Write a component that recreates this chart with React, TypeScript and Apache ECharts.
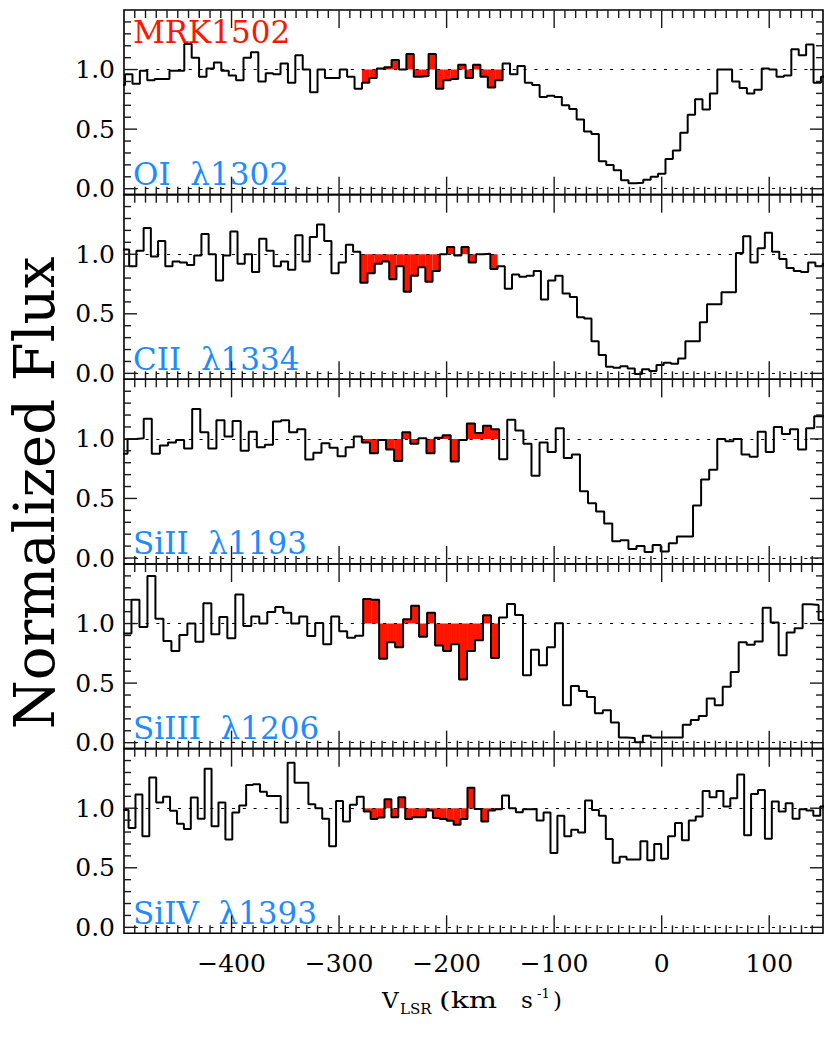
import React, { useEffect, useRef } from 'react';
import * as echarts from 'echarts';

// ---------- data ----------
const X_MIN = -500;
const X_MAX = 150;
const X_INTERVAL = 100;
const X_MAJOR_TICKS = [-400, -300, -200, -100, 0, 100];
const X_MINOR_STEP = 10;
const Y_MIN = -0.05;
const Y_MAX = 1.5;
const Y_MAJOR = [0, 0.5, 1.0];
const Y_MINOR = [0.1, 0.2, 0.3, 0.4, 0.6, 0.7, 0.8, 0.9, 1.1, 1.2, 1.3, 1.4];
const TARGET = 'MRK1502';
const LINE_LABELS = ['OI  λ1302', 'CII  λ1334', 'SiII  λ1193', 'SiIII  λ1206', 'SiIV  λ1393'];
// left edge of the first velocity bin (km/s) and bin width (km/s) for each line
const BIN_START = [-505.9, -501.9, -504.2, -500.5, -502.2];
const BIN_WIDTH = [6.884, 6.717, 7.512, 7.43, 6.432];
// velocity window highlighted in red
const RED_RANGE = [-280, -150];

const FLUX_OI = [
  0.87, 0.96, 0.88, 0.99, 0.91, 0.92, 0.92, 0.99, 0.99, 1.215, 1.1, 0.94, 1.01, 1.06, 0.99, 0.95, 0.91,
  1.1, 1.145, 0.9, 0.97, 0.96, 1.05, 0.89, 1.12, 1.0, 0.81, 1.0, 0.93, 0.93, 1.0, 0.94, 0.84,
  0.89, 0.93, 1.01, 1.02, 1.08, 1.0, 1.13, 0.94, 0.945, 1.13, 0.84, 0.91, 0.92, 1.04, 0.93, 1.04, 0.94, 0.85, 0.91,
  1.05, 0.96, 1.03, 0.89, 0.87, 0.77, 0.78, 0.77, 0.7, 0.67, 0.58, 0.48, 0.46, 0.23, 0.2, 0.155, 0.07, 0.045,
  0.05, 0.075, 0.1, 0.125, 0.25, 0.32, 0.47, 0.62, 0.75, 0.665, 0.8, 1.0, 1.0, 0.9, 0.845, 0.8, 0.83, 1.01,
  1.0, 0.94, 0.95, 1.17, 1.12, 1.21, 0.89, 0.94,
];
const FLUX_CII = [
  1.04, 0.9, 1.03, 1.22, 0.98, 1.11, 0.9, 0.94, 0.93, 0.91, 0.99, 1.17, 1.0, 0.78, 0.99, 1.19, 0.92, 1.0,
  0.85, 1.13, 1.03, 0.9, 0.94, 0.87, 1.16, 0.94, 1.145, 1.25, 1.11, 0.84, 0.93, 1.08, 1.02,
  0.76, 0.84, 0.92, 0.94, 0.79, 0.9, 0.685, 0.82, 0.89, 0.77, 0.86, 1.0, 1.06, 0.99, 1.06, 0.93, 1.0, 1.005, 0.875,
  0.9, 0.71, 0.83, 0.81, 0.82, 0.86, 0.62, 0.78, 0.82, 0.67, 0.64, 0.47, 0.46, 0.27, 0.155, 0.055, 0.047, 0.06,
  0.04, -0.005, 0.035, 0.02, 0.07, 0.09, 0.08, 0.125, 0.27, 0.27, 0.43, 0.58, 0.58, 0.68, 0.68, 1.01, 1.15,
  0.93, 1.05, 1.18, 1.02, 0.96, 0.885, 0.86, 0.85, 0.93, 0.9, 0.92,
];
const FLUX_SIII = [
  0.876, 1.0, 1.005, 1.17, 0.876, 0.945, 0.97, 0.99, 0.92, 1.25, 1.055, 0.92, 1.157, 1.02, 1.15, 0.9, 1.06,
  0.93, 0.95, 1.146, 1.157, 1.055, 1.08, 0.826, 0.884, 0.964, 0.925, 0.854, 0.93, 1.02,
  0.97, 0.88, 0.99, 0.91, 0.815, 1.055, 0.96, 1.005, 0.88, 1.01, 1.03, 0.81, 0.99, 1.13, 1.05, 1.11, 1.08,
  0.83, 1.16, 1.07, 0.96, 0.69, 0.97, 0.89, 1.09, 0.84, 0.87, 0.56, 0.46, 0.39, 0.29, 0.14, 0.15, 0.075, 0.1,
  0.05, 0.11, 0.055, 0.125, 0.18, 0.18, 0.44, 0.66, 0.74, 1.0, 0.98, 1.0, 0.87, 0.85, 1.06, 0.89, 1.1, 1.04,
  1.08, 0.91, 1.09, 1.19, 1.19,
];
const FLUX_SIIII = [
  0.917, 1.2, 0.97, 1.4, 1.04, 0.854, 0.77, 0.903, 1.0, 0.848, 1.17, 0.91, 1.055, 0.876, 1.243, 0.98, 1.06,
  1.0, 1.097, 1.138, 1.09, 1.0, 1.06, 0.895, 1.005, 0.826, 1.06, 0.936, 0.88, 0.898,
  1.207, 1.2, 0.704, 0.843, 0.8, 1.036, 1.15, 0.89, 1.09, 0.815, 0.77, 0.826, 0.53, 0.77, 0.86, 1.07, 0.71,
  1.05, 1.164, 1.072, 0.567, 0.78, 0.65, 0.8, 1.003, 0.314, 0.475, 0.433, 0.383, 0.247, 0.272, 0.17, 0.044,
  0.039, 0.003, 0.058, 0.044, 0.044, 0.044, 0.044, 0.15, 0.19, 0.225, 0.37, 0.314, 0.47, 0.594, 0.844, 0.822,
  0.85, 1.133, 1.008, 0.733, 0.925, 0.961, 1.161, 1.156, 1.03,
];
const FLUX_SIIV = [
  0.986, 0.834, 1.116, 0.765, 1.258, 1.047, 1.097, 0.978, 0.87, 0.825, 1.089, 0.911, 1.332, 0.848, 1.047,
  0.737, 0.964, 1.022, 1.194, 1.202, 1.139, 1.102, 1.102, 0.881, 1.382, 1.213, 1.213, 1.033, 1.0, 0.911,
  0.681, 1.061, 0.889, 1.028, 1.097,
  0.972, 0.909, 0.922, 1.075, 0.925, 1.091, 0.909, 0.925, 0.925, 0.98, 0.917, 0.909, 0.895, 0.861, 0.909,
  1.172, 0.994, 0.889, 0.98, 0.992,
  1.106, 1.0, 0.967, 0.992, 0.994, 0.897, 0.964, 0.625, 0.936, 0.764, 0.819, 0.797, 1.064, 0.986, 0.936,
  0.742, 0.542, 0.592, 0.569, 0.569, 0.722, 0.564, 0.7, 0.575, 0.764, 0.875, 0.731, 0.897, 0.931, 1.144,
  1.092, 1.144, 1.014, 1.083, 1.283, 0.772, 1.119, 1.153, 0.744, 1.056, 0.972, 1.042, 0.911, 0.992, 0.981,
  0.936, 1.014,
];
const FLUXES = [FLUX_OI, FLUX_CII, FLUX_SIII, FLUX_SIIII, FLUX_SIIV];

// ---------- style / layout ----------
const FONT = "'DejaVu Serif', serif";
const RED = '#ff1400';
const BLUE = '#1e8cff';
const GRID_LEFT = 124;
const GRID_WIDTH = 699;
const GRID_TOP = 10;
const PANEL_H = 184.66;
const TICK_COLOR = '#1a1a1a';
const TICK_W = 1.4;
const X_TICK_LEN = [18, 8];
const Y_TICK_LEN = [13, 7];
// interior reference values used to place ticks through the scales
const Y_REF = 0.5;
const X_REF = -200;

function xMinorTicks(): number[] {
  const out: number[] = [];
  for (let v = X_MIN + X_MINOR_STEP; v < X_MAX; v += X_MINOR_STEP) {
    if (v % X_INTERVAL !== 0) out.push(v);
  }
  return out;
}

// tick marks placed through the chart's own scales (convertToPixel)
function buildTickGraphics(chart: any): any[] {
  const out: any[] = [];
  const xMinor = xMinorTicks();
  for (let i = 0; i < FLUXES.length; i++) {
    const finder = { xAxisIndex: i, yAxisIndex: i };
    const tl = chart.convertToPixel(finder, [X_MIN, Y_MAX]);
    const br = chart.convertToPixel(finder, [X_MAX, Y_MIN]);
    if (!tl || !br) continue;
    const left = tl[0];
    const top = tl[1];
    const right = br[0];
    const bottom = br[1];
    const addX = (v: number, len: number) => {
      const p = chart.convertToPixel(finder, [v, Y_REF]);
      out.push({ type: 'rect', z: 100, silent: true, shape: { x: p[0] - TICK_W / 2, y: bottom - len, width: TICK_W, height: len }, style: { fill: TICK_COLOR } });
      out.push({ type: 'rect', z: 100, silent: true, shape: { x: p[0] - TICK_W / 2, y: top, width: TICK_W, height: len }, style: { fill: TICK_COLOR } });
    };
    const addY = (v: number, len: number) => {
      const p = chart.convertToPixel(finder, [X_REF, v]);
      out.push({ type: 'rect', z: 100, silent: true, shape: { x: left, y: p[1] - TICK_W / 2, width: len, height: TICK_W }, style: { fill: TICK_COLOR } });
      out.push({ type: 'rect', z: 100, silent: true, shape: { x: right - len, y: p[1] - TICK_W / 2, width: len, height: TICK_W }, style: { fill: TICK_COLOR } });
    };
    X_MAJOR_TICKS.forEach((v) => addX(v, X_TICK_LEN[0]));
    xMinor.forEach((v) => addX(v, X_TICK_LEN[1]));
    Y_MAJOR.forEach((v) => addY(v, Y_TICK_LEN[0]));
    Y_MINOR.forEach((v) => addY(v, Y_TICK_LEN[1]));
  }
  return out;
}

function renderFrame(params: any) {
  const cs = params.coordSys;
  return {
    type: 'rect',
    shape: { x: cs.x, y: cs.y, width: cs.width, height: cs.height },
    style: { fill: 'none', stroke: '#000', lineWidth: 1.6 },
  };
}

function buildOption() {
  const grid: any[] = [];
  const xAxis: any[] = [];
  const yAxis: any[] = [];
  const series: any[] = [];
  const graphic: any[] = [];

  for (let i = 0; i < FLUXES.length; i++) {
    const top = GRID_TOP + i * PANEL_H;
    grid.push({ left: GRID_LEFT, top, width: GRID_WIDTH, height: PANEL_H, containLabel: false });
    const isLast = i === FLUXES.length - 1;
    xAxis.push({
      type: 'value',
      gridIndex: i,
      min: X_MIN,
      max: X_MAX,
      interval: X_INTERVAL,
      position: 'bottom',
      splitLine: { show: false },
      axisLine: { show: false, onZero: false },
      axisTick: { show: false },
      minorTick: { show: false },
      axisLabel: {
        show: isLast,
        margin: 18,
        fontFamily: FONT,
        fontSize: 25,
        color: '#000',
        formatter: (v: number) => (v <= X_MIN || v >= X_MAX ? '' : String(v).replace('-', '\u2212')),
      },
    });
    yAxis.push({
      type: 'value',
      gridIndex: i,
      min: Y_MIN,
      max: Y_MAX,
      position: 'left',
      splitLine: { show: false },
      axisLine: { show: false, onZero: false },
      axisTick: { show: false },
      axisLabel: {
        show: true,
        customValues: Y_MAJOR,
        margin: 9,
        fontFamily: FONT,
        fontSize: 25,
        color: '#000',
        formatter: (v: number) => v.toFixed(1),
      },
    });

    const flux = FLUXES[i];
    const start = BIN_START[i];
    const w = BIN_WIDTH[i];
    const stepData: number[][] = flux.map((v, k) => [start + k * w, v]);
    stepData.push([start + flux.length * w, flux[flux.length - 1]]);
    const redData: number[][] = [];
    flux.forEach((v, k) => {
      const x0 = start + k * w;
      const c = x0 + w / 2;
      if (c >= RED_RANGE[0] && c <= RED_RANGE[1]) redData.push([x0, x0 + w, v]);
    });

    series.push({
      type: 'custom',
      xAxisIndex: i,
      yAxisIndex: i,
      z: 1,
      silent: true,
      clip: true,
      encode: { x: [0, 1], y: 2 },
      data: redData,
      renderItem: (_p: any, api: any) => {
        const a = api.coord([api.value(0), 1]);
        const b = api.coord([api.value(1), api.value(2)]);
        return {
          type: 'rect',
          shape: { x: a[0], y: Math.min(a[1], b[1]), width: b[0] - a[0], height: Math.abs(b[1] - a[1]) },
          style: { fill: RED, stroke: null },
        };
      },
    });
    series.push({
      type: 'line',
      xAxisIndex: i,
      yAxisIndex: i,
      step: 'end',
      z: 3,
      silent: true,
      clip: true,
      symbol: 'none',
      data: stepData,
      lineStyle: { color: '#000', width: 2 },
      markLine: {
        silent: true,
        symbol: ['none', 'none'],
        label: { show: false },
        lineStyle: { color: '#000', width: 1, type: [3, 7.8] },
        data: [{ yAxis: 1 }, { yAxis: 0 }],
        z: 2,
      },
    });
    series.push({
      type: 'custom',
      xAxisIndex: i,
      yAxisIndex: i,
      z: 6,
      silent: true,
      encode: { x: 0, y: 1 },
      data: [[X_REF, Y_REF]],
      renderItem: renderFrame,
    });

    graphic.push({
      type: 'text',
      x: 133,
      y: 174 + i * PANEL_H,
      style: { text: LINE_LABELS[i], fill: BLUE, font: `31px ${FONT}`, textAlign: 'left', textVerticalAlign: 'middle' },
    });
  }

  graphic.push({
    type: 'text',
    x: 133,
    y: 32,
    style: { text: TARGET, fill: RED, font: `31px ${FONT}`, textAlign: 'left', textVerticalAlign: 'middle' },
  });
  graphic.push({
    type: 'text',
    x: 34,
    y: 493,
    rotation: Math.PI / 2,
    style: { text: 'Normalized Flux', fill: '#000', font: `56px ${FONT}`, textAlign: 'center', textVerticalAlign: 'middle' },
  });
  // x-axis title: V_LSR (km s^-1)
  const titleParts = [
    { t: 'V', x: 382, y: 1000, s: 23, sx: 1 },
    { t: 'LSR', x: 400, y: 1009, s: 15, sx: 1 },
    { t: '(km', x: 439, y: 1000, s: 23, sx: 1.3 },
    { t: 's', x: 521, y: 1000, s: 23, sx: 1 },
    { t: '-1', x: 537, y: 993, s: 13, sx: 1 },
    { t: ')', x: 553, y: 1000, s: 23, sx: 1 },
  ];
  titleParts.forEach((p) =>
    graphic.push({
      type: 'text',
      x: p.x,
      y: p.y,
      scaleX: p.sx,
      style: { text: p.t, fill: '#000', font: `${p.s}px ${FONT}`, textAlign: 'left', textVerticalAlign: 'middle' },
    })
  );

  return {
    animation: false,
    backgroundColor: '#fff',
    grid,
    xAxis,
    yAxis,
    series,
    graphic,
  };
}

export default function App() {
  const ref = useRef<HTMLDivElement>(null);
  useEffect(() => {
    const chart = echarts.init(ref.current as HTMLDivElement, null, { renderer: 'svg' });
    const option: any = buildOption();
    chart.setOption(option);
    const ticks = buildTickGraphics(chart);
    chart.setOption({ graphic: [...option.graphic, ...ticks] } as any);
    return () => chart.dispose();
  }, []);
  return (
    <div
      ref={ref}
      style={{ position: 'absolute', left: 0, top: 0, width: 830, height: 1038, background: '#fff' }}
    />
  );
}
